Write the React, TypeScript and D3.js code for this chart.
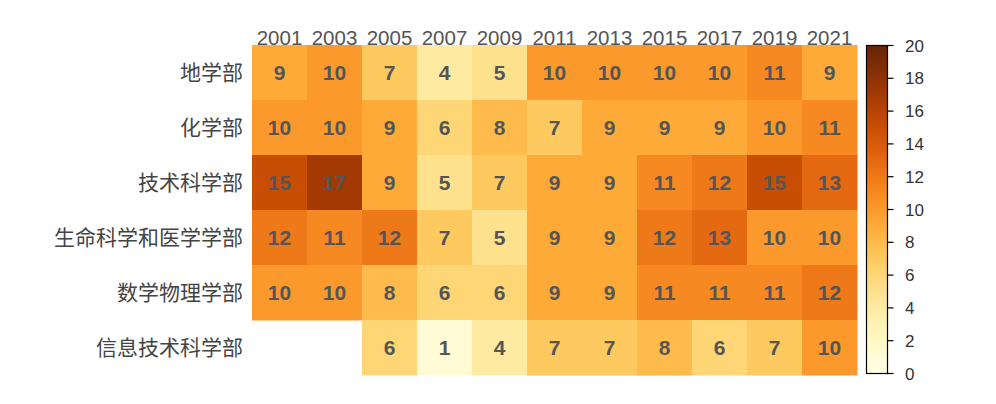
import React from "react";
import * as d3 from "d3";

const years = ["2001", "2003", "2005", "2007", "2009", "2011", "2013", "2015", "2017", "2019", "2021"];
const departments = ["地学部", "化学部", "技术科学部", "生命科学和医学学部", "数学物理学部", "信息技术科学部"];
const values: (number | null)[][] = [
  [9, 10, 7, 4, 5, 10, 10, 10, 10, 11, 9],
  [10, 10, 9, 6, 8, 7, 9, 9, 9, 10, 11],
  [15, 17, 9, 5, 7, 9, 9, 11, 12, 15, 13],
  [12, 11, 12, 7, 5, 9, 9, 12, 13, 10, 10],
  [10, 10, 8, 6, 6, 9, 9, 11, 11, 11, 12],
  [null, null, 6, 1, 4, 7, 7, 8, 6, 7, 10],
];
const colorTicks = [0, 2, 4, 6, 8, 10, 12, 14, 16, 18, 20];

export default function App() {
  const W = 996, H = 404;
  const left = 252, right = 857, top = 45, bottom = 375;
  const x = d3.scaleBand<string>().domain(years).range([left, right]).padding(0);
  const y = d3.scaleBand<string>().domain(departments).range([top, bottom]).padding(0);
  const color = d3.scaleSequential(d3.interpolateYlOrBr).domain([0, 20]);
  const cbX = 866.5, cbW = 21, cbTop = 45.5, cbBottom = 373.5;
  const cy = d3.scaleLinear().domain([0, 20]).range([cbBottom, cbTop]);
  const stops = d3.range(0, 1.0001, 0.05);
  const font = "'Liberation Sans', Arial, sans-serif";
  const cjk = "'Noto Sans CJK SC', sans-serif";
  return (
    <svg width={W} height={H} style={{ position: "absolute", left: 0, top: 0, background: "#fff" }}>
      <defs>
        <linearGradient id="cb" x1="0" y1="1" x2="0" y2="0">
          {stops.map((s) => (
            <stop key={s} offset={s} stopColor={color(s * 20)} />
          ))}
        </linearGradient>
      </defs>
      {values.map((row, i) =>
        row.map((v, j) =>
          v === null ? null : (
            <g key={`${i}-${j}`}>
              <rect
                x={x(years[j])!}
                y={y(departments[i])!}
                width={x.bandwidth() + 0.5}
                height={y.bandwidth() + 0.5}
                fill={color(v)}
              />
              <text
                x={x(years[j])! + x.bandwidth() / 2}
                y={y(departments[i])! + y.bandwidth() / 2}
                dy="0.36em"
                textAnchor="middle"
                fontFamily={font}
                fontWeight="bold"
                fontSize={21}
                fill="#555"
              >
                {v}
              </text>
            </g>
          )
        )
      )}
      {years.map((yr) => (
        <text
          key={yr}
          x={x(yr)! + x.bandwidth() / 2}
          y={top}
          textAnchor="middle"
          fontFamily={font}
          fontSize={20.5}
          fill="#555"
        >
          {yr}
        </text>
      ))}
      {departments.map((d) => (
        <text
          key={d}
          x={243}
          y={y(d)! + y.bandwidth() / 2}
          dy="0.35em"
          textAnchor="end"
          fontFamily={cjk}
          fontSize={21}
          fill="#444"
        >
          {d}
        </text>
      ))}
      <rect x={cbX} y={cbTop} width={cbW} height={cbBottom - cbTop} fill="url(#cb)" stroke="#000" strokeWidth={1.2} />
      {colorTicks.map((t) => (
        <g key={t}>
          <line x1={cbX + cbW} x2={cbX + cbW + 6} y1={cy(t)} y2={cy(t)} stroke="#000" strokeWidth={1.2} />
          <text x={905} y={cy(t)} dy="0.36em" fontFamily={font} fontSize={17} fill="#333">
            {t}
          </text>
        </g>
      ))}
    </svg>
  );
}
